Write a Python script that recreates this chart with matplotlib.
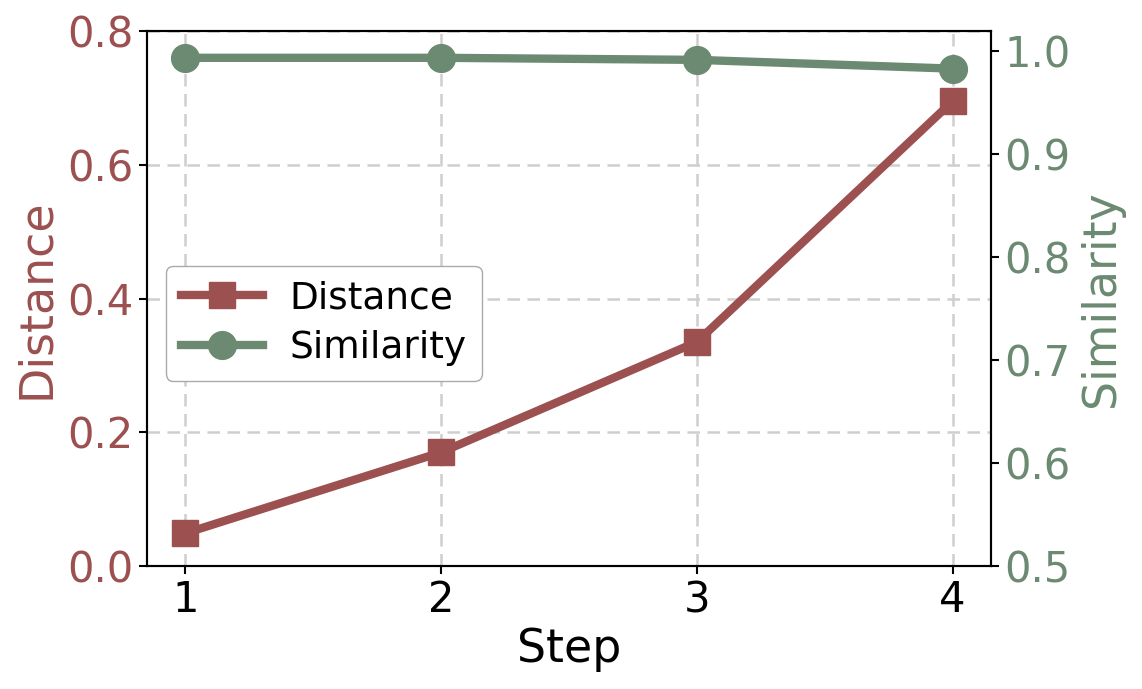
import matplotlib
matplotlib.use("Agg")
import matplotlib.pyplot as plt

steps = [1, 2, 3, 4]
distance = [0.049, 0.170, 0.335, 0.695]
similarity = [0.993, 0.993, 0.991, 0.9825]

c_dist = '#9c5050'
c_sim = '#6b8a71'

fig = plt.figure(figsize=(11.42, 6.89), dpi=100)
ax = fig.add_axes([147 / 1142, 1 - 566 / 689, 844 / 1142, 535 / 689])
ax2 = ax.twinx()

l1, = ax.plot(steps, distance, color=c_dist, marker='s', lw=6, ms=19, label='Distance')
l2, = ax2.plot(steps, similarity, color=c_sim, marker='o', lw=6, ms=20, label='Similarity')

ax.set_ylim(0, 0.8)
ax2.set_ylim(0.5, 1.019)
ax.set_xticks(steps)
ax.set_yticks([0, 0.2, 0.4, 0.6, 0.8])
ax2.set_yticks([0.5, 0.6, 0.7, 0.8, 0.9, 1.0])

ax.grid(True, ls=(0, (5, 3)), color='#cfcfcf', lw=1.8)
ax.set_axisbelow(True)

ax.set_xlabel('Step', fontsize=33, labelpad=4)
ax.set_ylabel('Distance', fontsize=33, color=c_dist, labelpad=6)
ax2.set_ylabel('Similarity', fontsize=33, color=c_sim, labelpad=6)
ax.tick_params(axis='x', labelsize=30, width=1.5, length=6)
ax.tick_params(axis='y', labelsize=30, labelcolor=c_dist, width=1.5, length=6)
ax2.tick_params(axis='y', labelsize=30, labelcolor=c_sim, width=1.5, length=6)
for a in (ax, ax2):
    for s in a.spines.values():
        s.set_linewidth(1.5)

ax2.legend([l1, l2], ['Distance', 'Similarity'], loc='center left',
           bbox_to_anchor=(0.0, 0.454), fontsize=27, handlelength=2.2,
           handletextpad=0.7, labelspacing=0.35,
           edgecolor='#aaaaaa', framealpha=1)

fig.savefig('out.png', dpi=100)
